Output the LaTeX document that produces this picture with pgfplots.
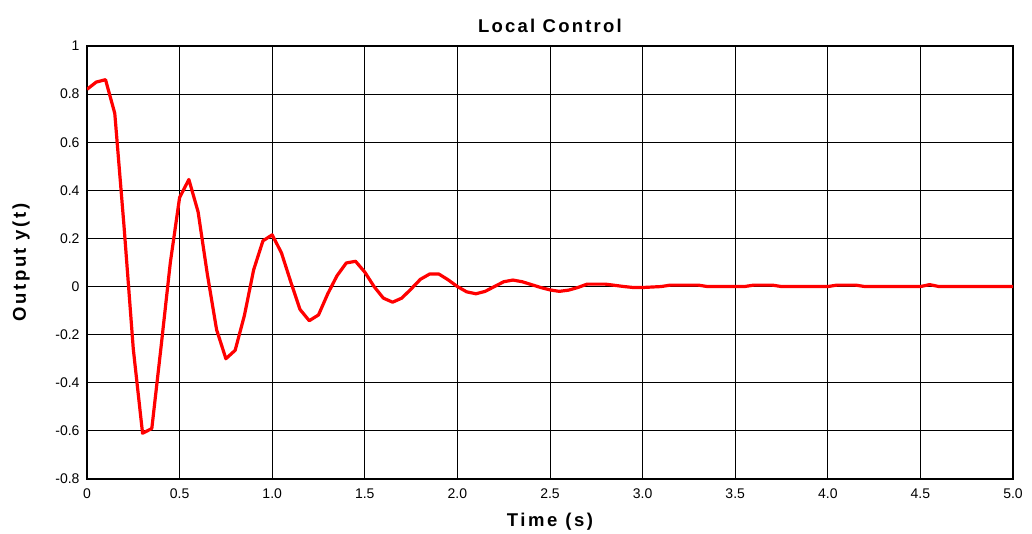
\documentclass[border=0pt]{standalone}
\usepackage{fontspec}
\setmainfont{Liberation Sans}
\usepackage{pgfplots}
\pgfplotsset{compat=1.18}
\begin{document}
\begin{tikzpicture}[x=1pt,y=1pt]
\useasboundingbox (-87pt,-55pt) rectangle (945pt,479pt);
\begin{axis}[
  scale only axis,
  width=926pt, height=433pt,
  at={(0,0)}, anchor=south west,
  xmin=0, xmax=5, ymin=-0.8, ymax=1,
  xtick={0,0.5,1,1.5,2,2.5,3,3.5,4,4.5,5},
  xticklabels={0,0.5,1.0,1.5,2.0,2.5,3.0,3.5,4.0,4.5,5.0},
  ytick={-0.8,-0.6,-0.4,-0.2,0,0.2,0.4,0.6,0.8,1},
  yticklabels={-0.8,-0.6,-0.4,-0.2,0,0.2,0.4,0.6,0.8,1},
  major tick length=0pt,
  grid=major,
  major grid style={black, line width=1pt},
  axis line style={black, line width=1.8pt},
  tick label style={font=\fontsize{14}{16}\selectfont},
  xticklabel style={yshift=-6pt},
  yticklabel style={xshift=-4pt},
  title={\fontsize{18.5}{20}\selectfont\bfseries\addfontfeatures{LetterSpace=12}Local Control},
  title style={at={(0.5,1)}, anchor=center, yshift=14pt},
  xlabel={\fontsize{18.5}{20}\selectfont\bfseries\addfontfeatures{LetterSpace=14}Time (s)},
  xlabel style={at={(0.5,0)}, anchor=center, yshift=-43pt},
  ylabel={\fontsize{18.5}{20}\selectfont\bfseries\addfontfeatures{LetterSpace=14}Output y(t)},
  ylabel style={at={(0,0.5)}, anchor=center, yshift=66pt},
]
\addplot[red, line width=3.2pt, line join=round] coordinates {
(0,0.82) (0.05,0.85) (0.1,0.86) (0.15,0.72) (0.2,0.25) (0.25,-0.26)
(0.3,-0.61) (0.35,-0.59) (0.4,-0.25) (0.45,0.10) (0.5,0.37) (0.55,0.445)
(0.6,0.31) (0.65,0.05) (0.7,-0.18) (0.75,-0.30) (0.8,-0.265) (0.85,-0.12)
(0.9,0.07) (0.95,0.19) (1.0,0.215) (1.05,0.14) (1.1,0.02) (1.15,-0.095)
(1.2,-0.142) (1.25,-0.118) (1.3,-0.03) (1.35,0.045) (1.4,0.098) (1.45,0.105)
(1.5,0.06) (1.55,0.0) (1.6,-0.048) (1.65,-0.065) (1.7,-0.048) (1.75,-0.01)
(1.8,0.03) (1.85,0.052) (1.9,0.052) (1.95,0.028) (2.0,0.0) (2.05,-0.022)
(2.1,-0.03) (2.15,-0.02) (2.2,0.0) (2.25,0.02) (2.3,0.027) (2.35,0.02)
(2.4,0.008) (2.45,-0.004) (2.5,-0.014) (2.55,-0.02) (2.6,-0.015) (2.65,-0.004)
(2.7,0.01) (2.75,0.01) (2.8,0.01) (2.85,0.005) (2.9,0.0) (2.95,-0.004)
(3.0,-0.004) (3.05,-0.002) (3.1,0.0) (3.15,0.006) (3.2,0.006) (3.25,0.006)
(3.3,0.006) (3.35,0.0) (3.4,0.0) (3.45,0.0) (3.5,0.0) (3.55,0.0)
(3.6,0.006) (3.65,0.006) (3.7,0.006) (3.75,0.0) (3.8,0.0) (3.85,0.0)
(3.9,0.0) (3.95,0.0) (4.0,0.0) (4.05,0.006) (4.1,0.006) (4.15,0.006)
(4.2,0.0) (4.25,0.0) (4.3,0.0) (4.35,0.0) (4.4,0.0) (4.45,0.0)
(4.5,0.0) (4.55,0.008) (4.6,0.0) (4.65,0.0) (4.7,0.0) (4.75,0.0)
(4.8,0.0) (4.85,0.0) (4.9,0.0) (4.95,0.0) (5.0,0.0)
};
\end{axis}
\end{tikzpicture}
\end{document}
